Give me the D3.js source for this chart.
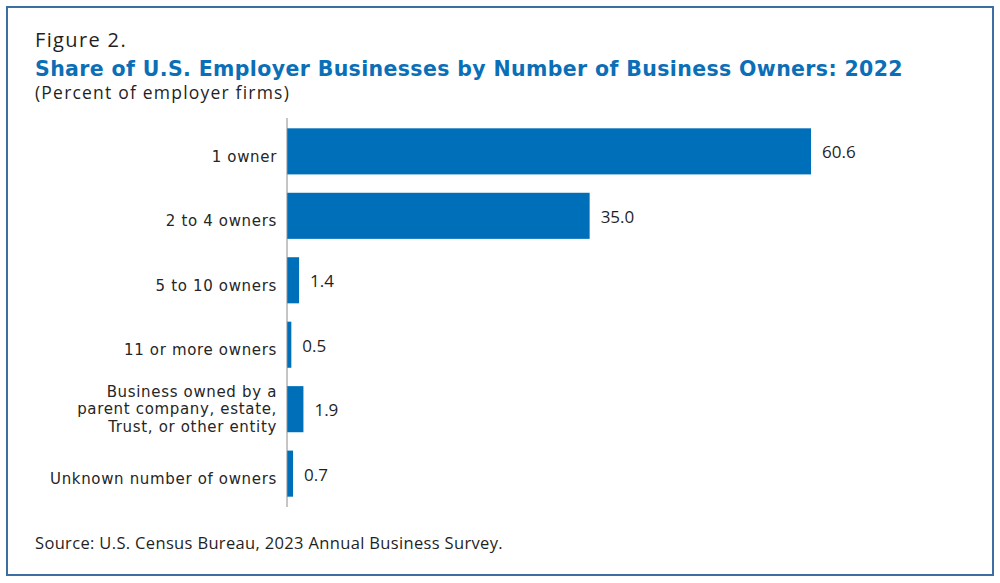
<!DOCTYPE html>
<html lang="en">
<head>
    <meta charset="UTF-8">
    <title>Share of U.S. Employer Businesses by Number of Business Owners: 2022</title>
    <script src="https://d3js.org/d3.v7.min.js"></script>
    <style>
        body { margin: 0; background: #fff; }
        text { font-family: "Open Sans", "Noto Sans", sans-serif; fill: #1f1f1f; }
        .title { font-family: "DejaVu Sans", sans-serif; fill: #0b6fb8; font-weight: 700; }
        .cat { font-family: "DejaVu Sans", sans-serif; fill: #262626; }
        .frame { fill: none; stroke: #3d6ea3; stroke-width: 2px; }
        .bar { fill: #006fba; }
        .axis-line { stroke: #8c8c8c; stroke-width: 1px; }
    </style>
</head>
<body>
    <svg width="1000" height="583"></svg>

    <script>
        // data
        const categories = [
            ["1 owner"],
            ["2 to 4 owners"],
            ["5 to 10 owners"],
            ["11 or more owners"],
            ["Business owned by a", "parent company, estate,", "Trust, or other entity"],
            ["Unknown number of owners"]
        ];
        const values = [60.6, 35.0, 1.4, 0.5, 1.9, 0.7];

        const svg = d3.select("svg");

        // stretch a text to the width it has in the figure with letter-spacing
        function fitWidth(sel, target) {
            const node = sel.node();
            const len = node.getComputedTextLength();
            const n = node.textContent.length;
            const ls = (target - len) / n;
            sel.style("letter-spacing", ls + "px");
            return ls;
        }

        svg.append("rect")
            .attr("class", "frame")
            .attr("x", 7).attr("y", 7)
            .attr("width", 986).attr("height", 568);

        // headings
        fitWidth(svg.append("text")
            .attr("x", 35).attr("y", 47)
            .style("font-size", "20px")
            .text("Figure 2."), 92);
        fitWidth(svg.append("text")
            .attr("class", "title")
            .attr("x", 35).attr("y", 75.5)
            .style("font-size", "20.5px")
            .text("Share of U.S. Employer Businesses by Number of Business Owners: 2022"), 868);
        fitWidth(svg.append("text")
            .attr("x", 35).attr("y", 99)
            .style("font-size", "17.5px")
            .text("(Percent of employer firms)"), 255);

        const margin = {top: 118, left: 287, bottom: 507};
        const x = d3.scaleLinear()
            .domain([0, 60.6])
            .range([margin.left, 811]);

        const y = d3.scaleBand()
            .domain(d3.range(values.length))
            .range([margin.top, margin.bottom])
            .paddingInner(0.285)
            .paddingOuter(0.16);

        const g = svg.append("g");

        g.selectAll("rect.bar")
            .data(values)
            .enter().append("rect")
            .attr("class", "bar")
            .attr("x", x(0))
            .attr("y", (d, i) => y(i))
            .attr("width", d => x(d) - x(0))
            .attr("height", y.bandwidth());

        // value labels
        g.selectAll("text.value")
            .data(values)
            .enter().append("text")
            .attr("class", "value")
            .attr("x", d => x(d) + 11)
            .attr("y", (d, i) => y(i) + y.bandwidth() / 2 + 1)
            .attr("dy", "0.35em")
            .style("font-size", "17px")
            .text(d => d.toFixed(1));

        // category labels
        const lineH = 17.5;
        const cats = g.selectAll("text.cat")
            .data(categories)
            .enter().append("text")
            .attr("class", "cat")
            .attr("text-anchor", "end")
            .style("font-size", "15px")
            .each(function(lines, i) {
                const mid = y(i) + y.bandwidth() / 2 + (lines.length === 1 ? 5 : 0);
                const first = mid - (lines.length - 1) * lineH / 2;
                d3.select(this).selectAll("tspan")
                    .data(lines)
                    .enter().append("tspan")
                    .attr("x", x(0) - 10)
                    .attr("y", (l, j) => first + j * lineH)
                    .attr("dy", "0.35em")
                    .text(l => l);
            });
        // same spacing for all labels, taken from the widest one
        const catSpacing = fitWidth(cats.filter((d, i) => i === categories.length - 1), 227);
        cats.style("letter-spacing", catSpacing + "px");

        svg.append("line")
            .attr("class", "axis-line")
            .attr("x1", x(0)).attr("x2", x(0))
            .attr("y1", margin.top).attr("y2", margin.bottom);

        fitWidth(svg.append("text")
            .attr("x", 35).attr("y", 549)
            .style("font-size", "16.5px")
            .text("Source: U.S. Census Bureau, 2023 Annual Business Survey."), 468);
    </script>
</body>
</html>
